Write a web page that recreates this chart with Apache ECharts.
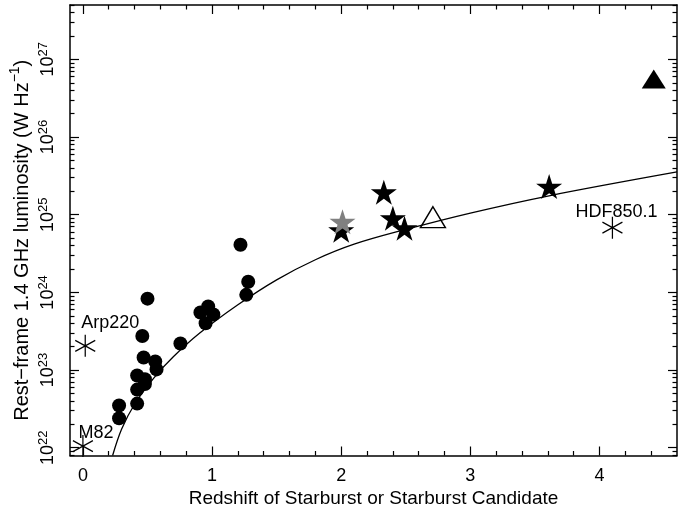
<!DOCTYPE html>
<html><head><meta charset="utf-8">
<script src="https://cdn.jsdelivr.net/npm/echarts@6/dist/echarts.min.js"></script>
<style>html,body{margin:0;padding:0;background:#fff}#c{width:682px;height:520px}</style>
</head><body><div id="c"></div>
<script>
// ---- data (redshift z, luminosity in W/Hz) ----
const xTickLabels = [0, 1, 2, 3, 4];
const yTickExponents = [22, 23, 24, 25, 26, 27];

const curveZ = [0.23, 0.30, 0.40, 0.55, 0.70, 0.90, 1.20, 1.50, 1.80, 2.10, 2.50, 3.00, 3.60, 4.60];
const curveL = [7.94e21, 1.74e22, 3.63e22, 7.94e22, 1.48e23, 2.95e23, 6.92e23, 1.45e24, 2.63e24, 4.17e24, 6.46e24, 1.05e25, 1.74e25, 3.55e25];

const circleZ = [0.50, 0.46, 0.47, 0.56, 0.57, 0.42, 0.48, 0.42, 0.48, 0.42, 0.28, 0.28, 0.755, 0.91, 0.97, 1.01, 0.95, 1.22, 1.28, 1.265];
const circleL = [8.3e23, 2.75e23, 1.45e23, 1.29e23, 1.02e23, 8.5e22, 7.6e22, 5.6e22, 6.6e22, 3.7e22, 3.5e22, 2.4e22, 2.2e23, 5.5e23, 6.6e23, 5.2e23, 4.0e23, 4.1e24, 1.37e24, 9.3e23];

const starZ = [2.00, 2.33, 2.40, 2.49, 3.61];
const starL = [6.3e24, 1.95e25, 9.0e24, 6.7e24, 2.3e25];

const greyStarZ = [2.01];
const greyStarL = [8.1e24];

const openTriZ = [2.71];
const openTriL = [9.3e24];

const filledTriZ = [4.42];
const filledTriL = [5.6e26];

const localNames = ['M82', 'Arp220', 'HDF850.1'];
const localZ = [0.0, 0.018, 4.10];
const localL = [1.05e22, 2.05e23, 6.8e24];

// ---- build ----
const pairs = (zs, ls) => zs.map((z, i) => [z, Math.log10(ls[i])]);
const FONT = 'Liberation Sans';
const FS = 18;
const XMIN = -0.1, XMAX = 4.6, YMIN = 21.9, YMAX = 27.7;

const xMinor = [];
for (let i = 1; i <= 22; i++) { const v = +(i * 0.2).toFixed(1); if (Math.abs(v - Math.round(v)) > 1e-6) xMinor.push(v); }
const yMinor = [];
const minorFactors = [2, 3, 4, 5, 6, 7, 8, 9];
for (let n = 21; n <= 27; n++) minorFactors.forEach(k => { const v = n + Math.log10(k); if (v > YMIN && v < YMAX) yMinor.push(v); });

const lineSt = { color: '#000', width: 1.5 };
const tickSt = { color: '#000', width: 1.2 };

function xAx(pos, ticks, len, showLine, labels, name) {
  const a = {
    type: 'value', min: XMIN, max: XMAX, position: pos,
    axisLine: { show: showLine, onZero: false, lineStyle: lineSt },
    axisTick: { show: true, inside: true, length: len, customValues: ticks, lineStyle: tickSt },
    axisLabel: labels ? { show: true, customValues: xTickLabels, fontFamily: FONT, fontSize: FS, color: '#000', margin: 12 } : { show: false },
    splitLine: { show: false }, minorTick: { show: false }
  };
  if (name) {
    a.name = name; a.nameLocation = 'middle'; a.nameGap = 34; a.nameMoveOverlap = false;
    a.nameTextStyle = { fontFamily: FONT, fontSize: 19, color: '#000' };
  }
  return a;
}
function yAx(pos, ticks, len, showLine, labels, name) {
  const a = {
    type: 'value', min: YMIN, max: YMAX, position: pos,
    axisLine: { show: showLine, onZero: false, lineStyle: lineSt },
    axisTick: { show: true, inside: true, length: len, customValues: ticks, lineStyle: tickSt },
    axisLabel: labels ? {
      show: true, customValues: yTickExponents, rotate: 90, margin: 13,
      formatter: v => '{a|10}{b|' + Math.round(v) + '}',
      rich: {
        a: { fontFamily: FONT, fontSize: FS, color: '#000', lineHeight: 20, verticalAlign: 'bottom' },
        b: { fontFamily: FONT, fontSize: 13, color: '#000', lineHeight: 20, verticalAlign: 'top' }
      }
    } : { show: false },
    splitLine: { show: false }, minorTick: { show: false }
  };
  if (name) {
    a.name = name; a.nameLocation = 'middle'; a.nameGap = 38; a.nameRotate = 90; a.nameMoveOverlap = false;
    a.nameTextStyle = {
      fontFamily: FONT, fontSize: 20, color: '#000', lineHeight: 24, padding: [0, 20, 0, 0],
      rich: {
        n: { fontFamily: FONT, fontSize: 20, color: '#000', lineHeight: 24, verticalAlign: 'bottom' },
        s: { fontFamily: FONT, fontSize: 14, color: '#000', lineHeight: 24, verticalAlign: 'top' }
      }
    };
  }
  return a;
}

const starPath = 'path://M50,0 L61.23,34.55 L97.55,34.55 L68.16,55.9 L79.39,90.45 L50,69.1 L20.61,90.45 L31.84,55.9 L2.45,34.55 L38.77,34.55 Z';
const asteriskPath = 'path://M10,0 L10,22 M0,5.5 L20,16.5 M0,16.5 L20,5.5';
const localLabelOffsets = [[13, -13], [25, -23], [4, -16]];

const option = {
  animation: false,
  backgroundColor: '#fff',
  grid: { left: 70, top: 5, width: 607, height: 450.5, containLabel: false, outerBoundsMode: 'none' },
  xAxis: [
    xAx('bottom', xTickLabels, 9, true, true, 'Redshift of Starburst or Starburst Candidate'),
    xAx('bottom', xMinor, 4.5, false, false),
    xAx('top', xTickLabels, 9, true, false),
    xAx('top', xMinor, 4.5, false, false)
  ],
  yAxis: [
    yAx('left', yTickExponents, 9, true, true, '{n|Rest\u2212frame 1.4 GHz luminosity (W Hz}{s|\u22121}{n|)}'),
    yAx('left', yMinor, 4.5, false, false),
    yAx('right', yTickExponents, 9, true, false),
    yAx('right', yMinor, 4.5, false, false)
  ],
  series: [
    { type: 'line', data: pairs(curveZ, curveL), smooth: 0.35, symbol: 'none', showSymbol: false,
      lineStyle: { color: '#000', width: 1.3 }, clip: true, silent: true, z: 2 },
    { type: 'scatter', data: pairs(circleZ, circleL), symbol: 'circle', symbolSize: 14,
      itemStyle: { color: '#000', opacity: 1 }, silent: true, z: 3 },
    { type: 'scatter', data: pairs(starZ, starL), symbol: starPath, symbolSize: [26, 25],
      itemStyle: { color: '#000', opacity: 1 }, silent: true, z: 3 },
    { type: 'scatter', data: pairs(greyStarZ, greyStarL), symbol: starPath, symbolSize: [26, 25],
      itemStyle: { color: '#808080', opacity: 1 }, silent: true, z: 4 },
    { type: 'scatter', data: pairs(openTriZ, openTriL), symbol: 'triangle', symbolSize: [25, 21],
      itemStyle: { color: 'rgba(0,0,0,0)', borderColor: '#000', borderWidth: 1.4, opacity: 1 }, silent: true, z: 4 },
    { type: 'scatter', data: pairs(filledTriZ, filledTriL), symbol: 'triangle', symbolSize: [24, 19],
      itemStyle: { color: '#000', opacity: 1 }, silent: true, z: 4 },
    { type: 'scatter', symbol: asteriskPath, symbolSize: [20, 22],
      itemStyle: { color: 'none', borderColor: '#000', borderWidth: 1.3, opacity: 1 }, silent: true, z: 4,
      data: localNames.map((n, i) => ({
        name: n, value: [localZ[i], Math.log10(localL[i])],
        label: { show: true, position: 'inside', offset: localLabelOffsets[i], formatter: n,
          fontFamily: FONT, fontSize: FS, color: '#000', align: 'center', verticalAlign: 'middle' }
      })) }
  ]
};
const chart = echarts.init(document.getElementById('c'), null, { renderer: 'canvas' });
chart.setOption(option);
</script>
</body></html>
